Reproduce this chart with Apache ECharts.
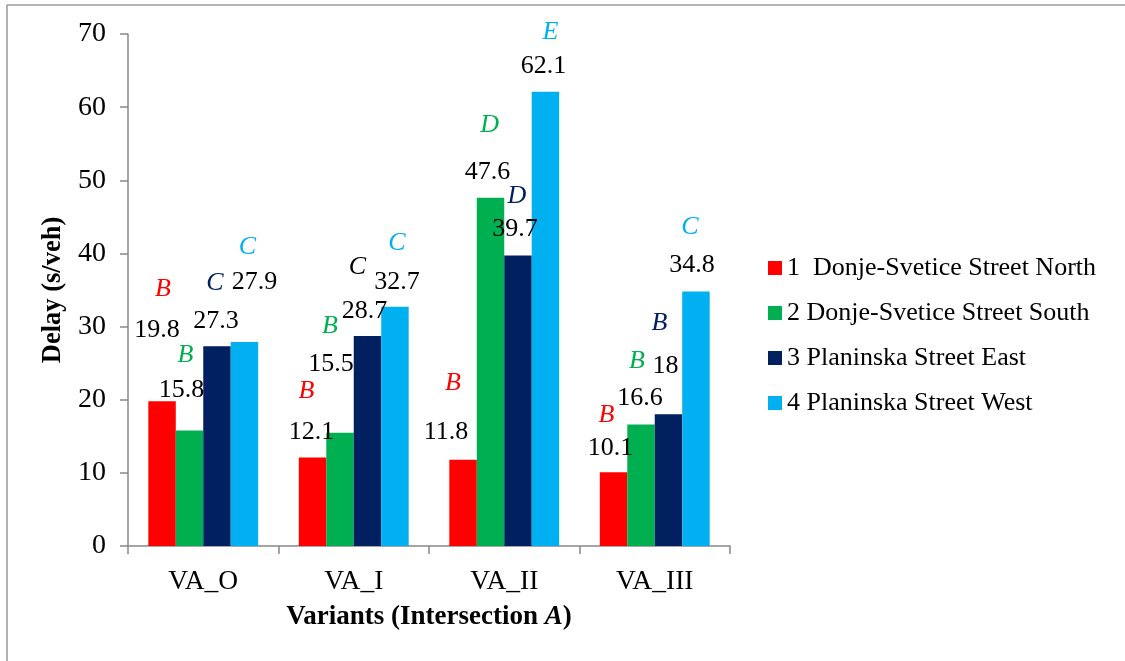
<!DOCTYPE html>
<html>
<head>
<meta charset="utf-8">
<script src="https://cdn.jsdelivr.net/npm/echarts@6/dist/echarts.min.js"></script>
<style>
html,body{margin:0;padding:0;background:#fff;}
#chart{width:1125px;height:661px;}
</style>
</head>
<body>
<div id="chart"></div>
<script>
// ---- data ----
const categories = ['VA_O', 'VA_I', 'VA_II', 'VA_III'];
const seriesNames = ['1  Donje-Svetice Street North', '2 Donje-Svetice Street South', '3 Planinska Street East', '4 Planinska Street West'];
const northDelay = [19.8, 12.1, 11.8, 10.1];
const southDelay = [15.8, 15.5, 47.6, 16.6];
const eastDelay = [27.3, 28.7, 39.7, 18];
const westDelay = [27.9, 32.7, 62.1, 34.8];
const northLOS = ['B', 'B', 'B', 'B'];
const southLOS = ['B', 'B', 'D', 'B'];
const eastLOS = ['C', 'C', 'D', 'B'];
const westLOS = ['C', 'C', 'E', 'C'];
const yTicks = [0, 10, 20, 30, 40, 50, 60, 70];

// ---- styling / label placement (not data) ----
const colors = ['#FF0000', '#00B050', '#002060', '#00B0F0'];
const letterColors = [
  ['#FF0000', '#FF0000', '#FF0000', '#FF0000'],
  ['#00B050', '#00B050', '#00B050', '#00B050'],
  ['#002060', '#000000', '#002060', '#002060'],
  ['#00B0F0', '#00B0F0', '#00B0F0', '#00B0F0']
];
// value label shift (dx, dy) of text centre from bar top centre
const valueShift = [
  [[-5, -71], [-1, -25], [-17, -28], [-3, -24]],
  [[-8, -40], [-9, -68], [-3, -26], [-1, -26]],
  [[-1, -25], [-3, -25], [-3, -26], [-3, -48]],
  [[10, -60], [2, -25], [-2, -26], [-4, -26]]
];
// LOS letter shift (dx, dy) of text centre from bar top centre
const letterShift = [
  [[1, -112], [-6, -66], [-10, -77], [-7, -57]],
  [[-4, -75], [-10, -106], [-1, -73], [-4, -63]],
  [[-2, -63], [-10, -69], [-1, -59], [-9, -91]],
  [[3, -95], [2, -64], [5, -60], [-6, -64]]
];

const FONT = '"Liberation Serif", "Times New Roman", serif';
const allValues = [northDelay, southDelay, eastDelay, westDelay];
const allLOS = [northLOS, southLOS, eastLOS, westLOS];

const series = allValues.map((vals, s) => ({
  name: seriesNames[s],
  type: 'bar',
  barGap: '0%',
  barCategoryGap: '27%',
  itemStyle: { color: colors[s] },
  data: vals.map((v, i) => ({
    value: v,
    label: {
      show: true,
      position: 'top',
      distance: 0,
      offset: [valueShift[s][i][0], valueShift[s][i][1] + 13],
      formatter: String(v),
      fontFamily: FONT,
      fontSize: 26,
      lineHeight: 26,
      color: '#000'
    }
  })),
  markPoint: {
    symbol: 'circle',
    symbolSize: 0,
    silent: true,
    animation: false,
    data: vals.map((v, i) => ({
      coord: [i, v],
      label: {
        show: true,
        position: 'inside',
        offset: letterShift[s][i],
        formatter: allLOS[s][i],
        fontFamily: FONT,
        fontStyle: 'italic',
        fontSize: 26,
        color: letterColors[s][i]
      }
    }))
  }
}));

const chart = echarts.init(document.getElementById('chart'));
chart.setOption({
  animation: false,
  backgroundColor: '#fff',
  textStyle: { fontFamily: FONT },
  grid: { left: 128, right: 395, top: 34, bottom: 115, containLabel: false },
  legend: {
    orient: 'vertical',
    left: 763,
    top: 250,
    itemWidth: 14,
    itemHeight: 14,
    itemGap: 19,
    icon: 'rect',
    data: seriesNames,
    textStyle: { fontFamily: FONT, fontSize: 26, color: '#000', lineHeight: 26 }
  },
  xAxis: {
    type: 'category',
    data: categories,
    name: 'Variants (Intersection {i|A})',
    nameLocation: 'middle',
    nameGap: 58,
    nameTextStyle: {
      fontFamily: FONT, fontSize: 27, fontWeight: 'bold', color: '#000',
      rich: { i: { fontFamily: FONT, fontSize: 27, fontWeight: 'bold', fontStyle: 'italic', color: '#000' } }
    },
    axisLine: { lineStyle: { color: '#888', width: 1.5 } },
    axisTick: { show: true, length: 8, lineStyle: { color: '#888', width: 1.5 } },
    axisLabel: { fontFamily: FONT, fontSize: 27.5, color: '#000', margin: 22 }
  },
  yAxis: {
    type: 'value',
    min: yTicks[0],
    max: yTicks[yTicks.length - 1],
    interval: yTicks[1] - yTicks[0],
    name: 'Delay (s/veh)',
    nameLocation: 'middle',
    nameRotate: 90,
    nameGap: 51,
    nameTextStyle: { fontFamily: FONT, fontSize: 26.5, fontWeight: 'bold', color: '#000' },
    axisLine: { show: true, lineStyle: { color: '#888', width: 1.5 } },
    axisTick: { show: true, length: 8, lineStyle: { color: '#888', width: 1.5 } },
    splitLine: { show: false },
    axisLabel: { fontFamily: FONT, fontSize: 28, color: '#000', margin: 22 }
  },
  graphic: [
    { type: 'line', silent: true, shape: { x1: 7, y1: 5, x2: 7, y2: 661 }, style: { stroke: '#999', lineWidth: 1.5 } },
    { type: 'line', silent: true, shape: { x1: 7, y1: 5, x2: 1125, y2: 5 }, style: { stroke: '#999', lineWidth: 1.5 } }
  ],
  series: series
});
</script>
</body>
</html>
